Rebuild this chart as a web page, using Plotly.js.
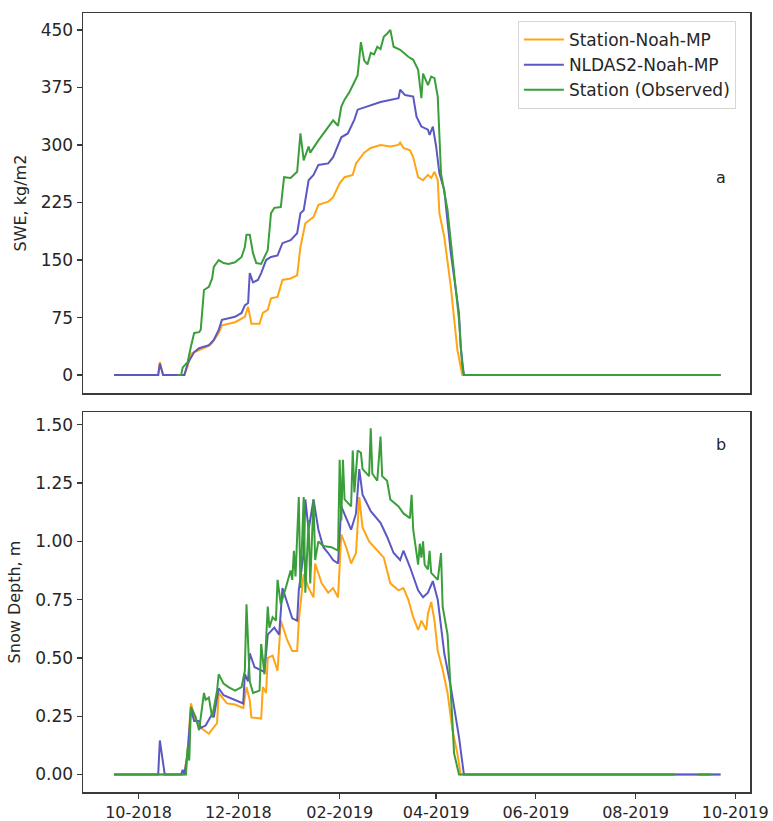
<!DOCTYPE html>
<html>
<head>
<meta charset="utf-8">
<script src="https://cdn.plot.ly/plotly-3.0.1.min.js"></script>
<style>html,body{margin:0;padding:0;background:#fff;}</style>
</head>
<body>
<div id="chart" style="width:773px;height:821px;"></div>
<script>
// ---------- Data ----------
const seriesNames = ['Station-Noah-MP', 'NLDAS2-Noah-MP', 'Station (Observed)'];
const seriesColors = ['#FFA514', '#5B58C2', '#3A9E3A'];
const panelLabels = ['a', 'b'];

// SWE, kg/m2 — Station-Noah-MP
const sweStationDates = ['2018-09-16','2018-10-13','2018-10-14','2018-10-16','2018-10-29','2018-10-31','2018-11-02','2018-11-07','2018-11-13','2018-11-15','2018-11-19','2018-11-21','2018-11-29','2018-12-05','2018-12-07','2018-12-09','2018-12-14','2018-12-16','2018-12-19','2018-12-21','2018-12-25','2018-12-28','2019-01-02','2019-01-06','2019-01-08','2019-01-11','2019-01-16','2019-01-19','2019-01-25','2019-01-28','2019-02-01','2019-02-04','2019-02-09','2019-02-11','2019-02-16','2019-02-20','2019-02-26','2019-03-04','2019-03-09','2019-03-10','2019-03-12','2019-03-16','2019-03-18','2019-03-21','2019-03-24','2019-03-27','2019-03-29','2019-03-31','2019-04-02','2019-04-03','2019-04-06','2019-04-10','2019-04-12','2019-04-14','2019-04-17','2019-09-22'];
const sweStation = [0,0,17,0,0,12,28,33,38,42,55,65,69,76,89,67,67,81,85,100,102,124,126,130,167,198,206,222,226,232,250,258,261,276,290,296,300,298,300,303,296,293,284,258,254,261,257,265,254,211,180,115,72,33,0,0];

// SWE — NLDAS2-Noah-MP
const sweNldasDates = ['2018-09-16','2018-10-13','2018-10-14','2018-10-16','2018-10-29','2018-10-31','2018-11-04','2018-11-07','2018-11-13','2018-11-16','2018-11-19','2018-11-21','2018-11-29','2018-12-03','2018-12-05','2018-12-07','2018-12-08','2018-12-10','2018-12-13','2018-12-15','2018-12-18','2018-12-21','2018-12-25','2018-12-28','2019-01-02','2019-01-06','2019-01-08','2019-01-10','2019-01-13','2019-01-16','2019-01-19','2019-01-25','2019-01-28','2019-02-02','2019-02-06','2019-02-10','2019-02-12','2019-02-20','2019-02-26','2019-03-09','2019-03-10','2019-03-13','2019-03-18','2019-03-20','2019-03-23','2019-03-27','2019-03-28','2019-03-30','2019-04-01','2019-04-03','2019-04-06','2019-04-10','2019-04-13','2019-04-15','2019-04-16','2019-04-18','2019-09-22'];
const sweNldas = [0,0,15,0,0,15,30,35,39,46,59,72,76,81,91,94,133,121,124,133,150,154,156,172,176,185,211,215,254,261,274,276,284,310,315,333,346,352,356,361,372,365,363,337,324,320,313,324,298,263,241,159,115,81,37,0,0];

// SWE — Station (Observed)
const sweObsDates = ['2018-10-25','2018-10-27','2018-10-28','2018-10-31','2018-11-02','2018-11-04','2018-11-07','2018-11-08','2018-11-10','2018-11-13','2018-11-15','2018-11-16','2018-11-19','2018-11-22','2018-11-25','2018-11-29','2018-12-03','2018-12-05','2018-12-06','2018-12-08','2018-12-10','2018-12-12','2018-12-15','2018-12-17','2018-12-19','2018-12-21','2018-12-23','2018-12-27','2018-12-29','2019-01-02','2019-01-06','2019-01-08','2019-01-10','2019-01-13','2019-01-14','2019-01-19','2019-01-28','2019-01-31','2019-02-02','2019-02-04','2019-02-07','2019-02-10','2019-02-12','2019-02-14','2019-02-16','2019-02-18','2019-02-20','2019-02-22','2019-02-24','2019-02-26','2019-02-28','2019-03-02','2019-03-04','2019-03-06','2019-03-10','2019-03-15','2019-03-18','2019-03-21','2019-03-23','2019-03-24','2019-03-27','2019-03-29','2019-03-31','2019-04-02','2019-04-03','2019-04-04','2019-04-08','2019-04-12','2019-04-15','2019-04-17','2019-04-18','2019-09-22'];
const sweObs = [0,0,10,17,37,55,56,59,111,115,126,141,150,146,145,147,154,167,183,183,159,146,145,154,163,211,218,219,258,257,265,315,280,298,290,306,332,325,350,359,369,382,391,434,410,405,420,418,428,425,441,445,450,428,424,415,411,398,361,393,378,389,387,363,310,263,215,133,72,11,0,0];

// Snow depth, m — Station-Noah-MP
const depthStationDates = ['2018-09-16','2018-10-29','2018-10-31','2018-11-02','2018-11-05','2018-11-08','2018-11-13','2018-11-18','2018-11-19','2018-11-24','2018-11-29','2018-12-04','2018-12-06','2018-12-08','2018-12-09','2018-12-15','2018-12-16','2018-12-18','2018-12-19','2018-12-22','2018-12-25','2018-12-27','2018-12-31','2019-01-03','2019-01-06','2019-01-07','2019-01-10','2019-01-13','2019-01-16','2019-01-17','2019-01-21','2019-01-25','2019-01-28','2019-01-31','2019-02-02','2019-02-05','2019-02-08','2019-02-11','2019-02-13','2019-02-15','2019-02-19','2019-02-24','2019-02-28','2019-03-04','2019-03-09','2019-03-12','2019-03-15','2019-03-18','2019-03-21','2019-03-23','2019-03-26','2019-03-27','2019-03-29','2019-03-31','2019-04-02','2019-04-05','2019-04-08','2019-04-11','2019-04-14','2019-04-16','2019-09-22'];
const depthStation = [0,0,0.1,0.305,0.23,0.2,0.175,0.22,0.35,0.305,0.3,0.285,0.375,0.32,0.245,0.24,0.375,0.35,0.5,0.51,0.445,0.66,0.575,0.53,0.53,0.66,0.86,0.8,0.76,0.905,0.82,0.78,0.8,0.76,1.03,0.975,0.905,0.95,1.19,1.06,1.0,0.96,0.93,0.82,0.79,0.8,0.75,0.675,0.62,0.66,0.62,0.69,0.74,0.66,0.53,0.45,0.35,0.19,0.09,0,0];

// Snow depth — NLDAS2-Noah-MP
const depthNldasDates = ['2018-09-16','2018-10-13','2018-10-14','2018-10-17','2018-10-27','2018-10-28','2018-10-29','2018-10-31','2018-11-02','2018-11-04','2018-11-07','2018-11-08','2018-11-11','2018-11-15','2018-11-16','2018-11-18','2018-11-19','2018-11-22','2018-11-29','2018-12-04','2018-12-05','2018-12-07','2018-12-08','2018-12-11','2018-12-17','2018-12-19','2018-12-23','2018-12-26','2018-12-28','2018-12-31','2019-01-03','2019-01-06','2019-01-07','2019-01-10','2019-01-11','2019-01-13','2019-01-16','2019-01-19','2019-01-22','2019-01-25','2019-01-28','2019-01-31','2019-02-02','2019-02-05','2019-02-08','2019-02-11','2019-02-13','2019-02-15','2019-02-20','2019-02-26','2019-03-02','2019-03-06','2019-03-10','2019-03-12','2019-03-16','2019-03-21','2019-03-24','2019-03-27','2019-03-30','2019-04-02','2019-04-06','2019-04-10','2019-04-12','2019-04-15','2019-04-18','2019-09-22'];
const depthNldas = [0,0,0.146,0,0,0.02,0,0.09,0.28,0.23,0.23,0.2,0.21,0.26,0.245,0.32,0.37,0.34,0.32,0.305,0.43,0.4,0.52,0.46,0.44,0.6,0.63,0.6,0.8,0.73,0.67,0.66,0.79,0.95,1.18,1.05,1.18,1.05,0.975,0.95,0.92,0.905,1.15,1.1,1.05,1.12,1.31,1.2,1.13,1.08,1.02,0.95,0.92,0.96,0.89,0.79,0.76,0.78,0.83,0.75,0.52,0.375,0.29,0.16,0,0];

// Snow depth — Station (Observed); null = missing observation
const depthObsDates = ['2018-09-16','2018-10-30','2018-10-31','2018-11-01','2018-11-02','2018-11-05','2018-11-07','2018-11-08','2018-11-10','2018-11-11','2018-11-13','2018-11-15','2018-11-18','2018-11-19','2018-11-22','2018-11-25','2018-11-29','2018-12-03','2018-12-05','2018-12-06','2018-12-07','2018-12-08','2018-12-10','2018-12-14','2018-12-15','2018-12-17','2018-12-19','2018-12-20','2018-12-22','2018-12-24','2018-12-25','2018-12-27','2018-12-30','2019-01-02','2019-01-03','2019-01-04','2019-01-05','2019-01-07','2019-01-08','2019-01-10','2019-01-11','2019-01-13','2019-01-14','2019-01-16','2019-01-17','2019-01-19','2019-01-22','2019-01-27','2019-01-31','2019-02-01','2019-02-02','2019-02-03','2019-02-04','2019-02-07','2019-02-08','2019-02-09','2019-02-10','2019-02-12','2019-02-14','2019-02-15','2019-02-19','2019-02-20','2019-02-21','2019-02-24','2019-02-26','2019-02-27','2019-03-02','2019-03-04','2019-03-09','2019-03-12','2019-03-16','2019-03-17','2019-03-18','2019-03-21','2019-03-22','2019-03-23','2019-03-24','2019-03-25','2019-03-27','2019-03-28','2019-03-29','2019-04-02','2019-04-04','2019-04-05','2019-04-08','2019-04-10','2019-04-12','2019-04-15','2019-08-25','2019-08-26','2019-09-08','2019-09-16'];
const depthObs = [0,0,0.116,0.06,0.29,0.245,0.19,0.245,0.35,0.32,0.33,0.245,0.36,0.43,0.39,0.375,0.36,0.375,0.445,0.73,0.575,0.4,0.35,0.36,0.56,0.43,0.72,0.63,0.675,0.66,0.835,0.73,0.8,0.875,0.835,0.96,0.85,1.19,0.8,1.19,0.78,1.09,0.82,1.18,0.92,1.0,0.98,0.975,0.96,1.35,1.09,1.35,1.18,1.16,1.15,1.39,1.21,1.39,1.38,1.31,1.28,1.485,1.29,1.26,1.45,1.28,1.26,1.18,1.15,1.12,1.1,1.2,1.05,0.9,0.99,0.93,1.0,0.9,0.88,0.96,0.865,0.835,0.95,0.72,0.6,0.35,0.09,0,0,null,0,0];

const sweTicks = [0, 75, 150, 225, 300, 375, 450];
const depthTicks = [0, 0.25, 0.5, 0.75, 1.0, 1.25, 1.5];

// ---------- Traces ----------
const sweX = [sweStationDates, sweNldasDates, sweObsDates];
const sweY = [sweStation, sweNldas, sweObs];
const depX = [depthStationDates, depthNldasDates, depthObsDates];
const depY = [depthStation, depthNldas, depthObs];

const traces = [];
for (let i = 0; i < 3; i++) {
  traces.push({
    type: 'scatter', mode: 'lines', name: seriesNames[i],
    x: sweX[i], y: sweY[i], xaxis: 'x', yaxis: 'y',
    line: {color: seriesColors[i], width: 2}, connectgaps: false,
    showlegend: true, hoverinfo: 'skip'
  });
}
for (let i = 0; i < 3; i++) {
  traces.push({
    type: 'scatter', mode: 'lines', name: seriesNames[i],
    x: depX[i], y: depY[i], xaxis: 'x2', yaxis: 'y2',
    line: {color: seriesColors[i], width: 2}, connectgaps: false,
    showlegend: false, hoverinfo: 'skip'
  });
}

const frameAxis = {
  showline: true, mirror: true, linecolor: '#3a3a3a', linewidth: 1.5,
  showgrid: false, zeroline: false
};
const xRange = ['2018-08-28', '2019-10-10'];

const layout = {
  width: 773, height: 821,
  margin: {l: 83, r: 23, t: 13, b: 29, pad: 0},
  paper_bgcolor: '#ffffff', plot_bgcolor: '#ffffff',
  font: {family: 'DejaVu Sans, sans-serif', size: 16, color: '#262626'},
  showlegend: true,
  legend: {
    x: 0.652, y: 0.9897, xanchor: 'left', yanchor: 'top',
    bgcolor: 'rgba(255,255,255,0.85)', bordercolor: '#d6d6d6', borderwidth: 1,
    font: {size: 17, color: '#262626'}, tracegroupgap: 0, itemwidth: 40
  },
  xaxis: Object.assign({}, frameAxis, {
    domain: [0, 1], anchor: 'y', type: 'date', range: xRange, matches: 'x2',
    showticklabels: false, ticks: ''
  }),
  yaxis: Object.assign({}, frameAxis, {
    domain: [0.512, 1], anchor: 'x', range: [-23.5, 472],
    tickvals: sweTicks, ticks: 'outside', ticklen: 5, tickwidth: 1.3, tickcolor: '#3a3a3a',
    tickfont: {size: 17}, title: {text: 'SWE, kg/m2', font: {size: 16}, standoff: 10}
  }),
  xaxis2: Object.assign({}, frameAxis, {
    domain: [0, 1], anchor: 'y2', type: 'date', range: xRange,
    tick0: '2018-10-01', dtick: 'M2', tickformat: '%m-%Y',
    ticks: 'outside', ticklen: 5, tickwidth: 1.3, tickcolor: '#3a3a3a',
    tickfont: {size: 16}
  }),
  yaxis2: Object.assign({}, frameAxis, {
    domain: [0, 0.4878], anchor: 'x2', range: [-0.075, 1.555],
    tickvals: depthTicks, tickformat: '.2f', ticks: 'outside', ticklen: 5, tickwidth: 1.3, tickcolor: '#3a3a3a',
    tickfont: {size: 17}, title: {text: 'Snow Depth, m', font: {size: 16}, standoff: 10}
  }),
  annotations: [
    {text: panelLabels[0], xref: 'paper', yref: 'y', x: 0.9565, y: 257, xanchor: 'center', yanchor: 'middle', showarrow: false, font: {size: 16, color: '#262626'}},
    {text: panelLabels[1], xref: 'paper', yref: 'y2', x: 0.9565, y: 1.414, xanchor: 'center', yanchor: 'middle', showarrow: false, font: {size: 16, color: '#262626'}}
  ]
};

Plotly.newPlot('chart', traces, layout, {displayModeBar: false, staticPlot: true});
</script>
</body>
</html>
